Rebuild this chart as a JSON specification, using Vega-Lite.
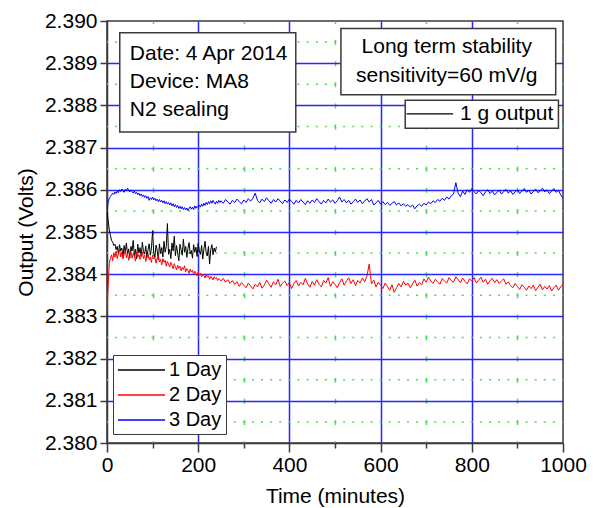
{
 "$schema": "https://vega.github.io/schema/vega-lite/v6.json",
 "width": 456, "height": 422,
 "autosize": {"type": "none"},
 "padding": {"left": 107, "top": 21, "right": 30, "bottom": 65},
 "background": "white",
 "config": {"font": "Liberation Sans", "view": {"stroke": "#3a3a3a", "strokeWidth": 1.5}},
 "layer": [
  {
   "data": {"values": [
    {"level": 2.3805}, {"level": 2.3815}, {"level": 2.3825}, {"level": 2.3835}, {"level": 2.3845},
    {"level": 2.3855}, {"level": 2.3865}, {"level": 2.3875}, {"level": 2.3885}, {"level": 2.3895}
   ]},
   "mark": {"type": "rule", "color": "#4ddf4d", "strokeWidth": 1.5, "strokeDash": [2, 7.12], "strokeDashOffset": 1},
   "encoding": {
    "y": {"field": "level", "type": "quantitative", "title": "Output (Volts)"}
   }
  },
  {
   "data": {"values": [
{"t":0,"1 Day":2.38550,"2 Day":2.38310,"3 Day":2.38550},
{"t":2.5,"1 Day":2.38527,"2 Day":2.38372,"3 Day":2.38570},
{"t":5,"1 Day":2.38506,"2 Day":2.38425,"3 Day":2.38580},
{"t":7.5,"1 Day":2.38492,"2 Day":2.38438,"3 Day":2.38584},
{"t":10,"1 Day":2.38480,"2 Day":2.38446,"3 Day":2.38588},
{"t":12.5,"1 Day":2.38476,"2 Day":2.38432,"3 Day":2.38592},
{"t":15,"1 Day":2.38468,"2 Day":2.38451,"3 Day":2.38589},
{"t":17.5,"1 Day":2.38471,"2 Day":2.38440,"3 Day":2.38595},
{"t":20,"1 Day":2.38458,"2 Day":2.38455,"3 Day":2.38591},
{"t":22.5,"1 Day":2.38466,"2 Day":2.38437,"3 Day":2.38597},
{"t":25,"1 Day":2.38449,"2 Day":2.38448,"3 Day":2.38593},
{"t":27.5,"1 Day":2.38470,"2 Day":2.38459,"3 Day":2.38600},
{"t":30,"1 Day":2.38455,"2 Day":2.38441,"3 Day":2.38596},
{"t":32.5,"1 Day":2.38462,"2 Day":2.38452,"3 Day":2.38602},
{"t":35,"1 Day":2.38441,"2 Day":2.38436,"3 Day":2.38598},
{"t":37.5,"1 Day":2.38468,"2 Day":2.38447,"3 Day":2.38594},
{"t":40,"1 Day":2.38452,"2 Day":2.38457,"3 Day":2.38601},
{"t":42.5,"1 Day":2.38474,"2 Day":2.38439,"3 Day":2.38597},
{"t":45,"1 Day":2.38447,"2 Day":2.38450,"3 Day":2.38604},
{"t":47.5,"1 Day":2.38460,"2 Day":2.38433,"3 Day":2.38599},
{"t":50,"1 Day":2.38438,"2 Day":2.38446,"3 Day":2.38595},
{"t":52.5,"1 Day":2.38466,"2 Day":2.38454,"3 Day":2.38600},
{"t":55,"1 Day":2.38455,"2 Day":2.38438,"3 Day":2.38596},
{"t":57.5,"1 Day":2.38480,"2 Day":2.38449,"3 Day":2.38592},
{"t":60,"1 Day":2.38444,"2 Day":2.38443,"3 Day":2.38597},
{"t":62.5,"1 Day":2.38459,"2 Day":2.38431,"3 Day":2.38591},
{"t":65,"1 Day":2.38436,"2 Day":2.38452,"3 Day":2.38594},
{"t":67.5,"1 Day":2.38471,"2 Day":2.38440,"3 Day":2.38588},
{"t":70,"1 Day":2.38450,"2 Day":2.38447,"3 Day":2.38592},
{"t":72.5,"1 Day":2.38463,"2 Day":2.38435,"3 Day":2.38586},
{"t":75,"1 Day":2.38442,"2 Day":2.38444,"3 Day":2.38590},
{"t":77.5,"1 Day":2.38476,"2 Day":2.38453,"3 Day":2.38584},
{"t":80,"1 Day":2.38454,"2 Day":2.38437,"3 Day":2.38588},
{"t":82.5,"1 Day":2.38448,"2 Day":2.38446,"3 Day":2.38582},
{"t":85,"1 Day":2.38467,"2 Day":2.38430,"3 Day":2.38586},
{"t":87.5,"1 Day":2.38439,"2 Day":2.38442,"3 Day":2.38580},
{"t":90,"1 Day":2.38458,"2 Day":2.38449,"3 Day":2.38584},
{"t":92.5,"1 Day":2.38472,"2 Day":2.38434,"3 Day":2.38575},
{"t":95,"1 Day":2.38445,"2 Day":2.38441,"3 Day":2.38581},
{"t":97.5,"1 Day":2.38462,"2 Day":2.38428,"3 Day":2.38577},
{"t":100,"1 Day":2.38503,"2 Day":2.38445,"3 Day":2.38583},
{"t":102.5,"1 Day":2.38451,"2 Day":2.38436,"3 Day":2.38576},
{"t":105,"1 Day":2.38440,"2 Day":2.38440,"3 Day":2.38580},
{"t":107.5,"1 Day":2.38469,"2 Day":2.38426,"3 Day":2.38574},
{"t":110,"1 Day":2.38457,"2 Day":2.38438,"3 Day":2.38578},
{"t":112.5,"1 Day":2.38434,"2 Day":2.38444,"3 Day":2.38572},
{"t":115,"1 Day":2.38472,"2 Day":2.38429,"3 Day":2.38577},
{"t":117.5,"1 Day":2.38449,"2 Day":2.38435,"3 Day":2.38571},
{"t":120,"1 Day":2.38463,"2 Day":2.38422,"3 Day":2.38575},
{"t":122.5,"1 Day":2.38441,"2 Day":2.38437,"3 Day":2.38569},
{"t":125,"1 Day":2.38478,"2 Day":2.38428,"3 Day":2.38574},
{"t":127.5,"1 Day":2.38452,"2 Day":2.38433,"3 Day":2.38567},
{"t":130,"1 Day":2.38466,"2 Day":2.38419,"3 Day":2.38572},
{"t":132.5,"1 Day":2.38520,"2 Day":2.38430,"3 Day":2.38566},
{"t":135,"1 Day":2.38447,"2 Day":2.38424,"3 Day":2.38570},
{"t":137.5,"1 Day":2.38459,"2 Day":2.38417,"3 Day":2.38564},
{"t":140,"1 Day":2.38437,"2 Day":2.38428,"3 Day":2.38569},
{"t":142.5,"1 Day":2.38474,"2 Day":2.38421,"3 Day":2.38562},
{"t":145,"1 Day":2.38455,"2 Day":2.38413,"3 Day":2.38567},
{"t":147.5,"1 Day":2.38490,"2 Day":2.38425,"3 Day":2.38560},
{"t":150,"1 Day":2.38444,"2 Day":2.38418,"3 Day":2.38565},
{"t":152.5,"1 Day":2.38468,"2 Day":2.38410,"3 Day":2.38558},
{"t":155,"1 Day":2.38450,"2 Day":2.38421,"3 Day":2.38563},
{"t":157.5,"1 Day":2.38432,"2 Day":2.38414,"3 Day":2.38556},
{"t":160,"1 Day":2.38471,"2 Day":2.38419,"3 Day":2.38561},
{"t":162.5,"1 Day":2.38458,"2 Day":2.38408,"3 Day":2.38555},
{"t":165,"1 Day":2.38445,"2 Day":2.38416,"3 Day":2.38560},
{"t":167.5,"1 Day":2.38483,"2 Day":2.38411,"3 Day":2.38553},
{"t":170,"1 Day":2.38452,"2 Day":2.38420,"3 Day":2.38558},
{"t":172.5,"1 Day":2.38466,"2 Day":2.38406,"3 Day":2.38552},
{"t":175,"1 Day":2.38440,"2 Day":2.38413,"3 Day":2.38557},
{"t":177.5,"1 Day":2.38461,"2 Day":2.38409,"3 Day":2.38551},
{"t":180,"1 Day":2.38475,"2 Day":2.38402,"3 Day":2.38556},
{"t":182.5,"1 Day":2.38448,"2 Day":2.38412,"3 Day":2.38560},
{"t":185,"1 Day":2.38456,"2 Day":2.38405,"3 Day":2.38554},
{"t":187.5,"1 Day":2.38438,"2 Day":2.38410,"3 Day":2.38559},
{"t":190,"1 Day":2.38470,"2 Day":2.38399,"3 Day":2.38553},
{"t":192.5,"1 Day":2.38452,"2 Day":2.38407,"3 Day":2.38562},
{"t":195,"1 Day":2.38464,"2 Day":2.38403,"3 Day":2.38556},
{"t":197.5,"1 Day":2.38442,"2 Day":2.38396,"3 Day":2.38561},
{"t":200,"1 Day":2.38473,"2 Day":2.38405,"3 Day":2.38558},
{"t":202.5,"1 Day":2.38455,"2 Day":2.38398,"3 Day":2.38564},
{"t":205,"1 Day":2.38447,"2 Day":2.38402,"3 Day":2.38559},
{"t":207.5,"1 Day":2.38468,"2 Day":2.38394,"3 Day":2.38566},
{"t":210,"1 Day":2.38436,"2 Day":2.38400,"3 Day":2.38561},
{"t":212.5,"1 Day":2.38460,"2 Day":2.38397,"3 Day":2.38568},
{"t":215,"1 Day":2.38478,"2 Day":2.38391,"3 Day":2.38563},
{"t":217.5,"1 Day":2.38451,"2 Day":2.38399,"3 Day":2.38570},
{"t":220,"1 Day":2.38443,"2 Day":2.38393,"3 Day":2.38565},
{"t":222.5,"1 Day":2.38466,"2 Day":2.38396,"3 Day":2.38572},
{"t":225,"1 Day":2.38424,"2 Day":2.38388,"3 Day":2.38567},
{"t":227.5,"1 Day":2.38458,"2 Day":2.38395,"3 Day":2.38574},
{"t":230,"1 Day":2.38470,"2 Day":2.38391,"3 Day":2.38568},
{"t":232.5,"1 Day":2.38446,"2 Day":2.38386,"3 Day":2.38575},
{"t":235,"1 Day":2.38462,"2 Day":2.38394,"3 Day":2.38570},
{"t":237.5,"1 Day":2.38453,"2 Day":2.38389,"3 Day":2.38566},
{"t":240,"1 Day":2.38465,"2 Day":2.38392,"3 Day":2.38573},
{"t":242.5,"2 Day":2.38385,"3 Day":2.38568},
{"t":245,"2 Day":2.38390,"3 Day":2.38575},
{"t":247.5,"2 Day":2.38387,"3 Day":2.38570},
{"t":250,"2 Day":2.38384,"3 Day":2.38574},
{"t":255,"2 Day":2.38390,"3 Day":2.38568},
{"t":260,"2 Day":2.38381,"3 Day":2.38577},
{"t":265,"2 Day":2.38387,"3 Day":2.38571},
{"t":270,"2 Day":2.38378,"3 Day":2.38566},
{"t":275,"2 Day":2.38385,"3 Day":2.38575},
{"t":280,"2 Day":2.38376,"3 Day":2.38570},
{"t":285,"2 Day":2.38382,"3 Day":2.38578},
{"t":290,"2 Day":2.38371,"3 Day":2.38572},
{"t":295,"2 Day":2.38380,"3 Day":2.38567},
{"t":300,"2 Day":2.38374,"3 Day":2.38576},
{"t":305,"2 Day":2.38368,"3 Day":2.38570},
{"t":310,"2 Day":2.38379,"3 Day":2.38579},
{"t":315,"2 Day":2.38372,"3 Day":2.38573},
{"t":320,"2 Day":2.38365,"3 Day":2.38580},
{"t":325,"2 Day":2.38376,"3 Day":2.38592},
{"t":330,"2 Day":2.38370,"3 Day":2.38575},
{"t":335,"2 Day":2.38381,"3 Day":2.38569},
{"t":340,"2 Day":2.38367,"3 Day":2.38578},
{"t":345,"2 Day":2.38374,"3 Day":2.38572},
{"t":350,"2 Day":2.38386,"3 Day":2.38581},
{"t":355,"2 Day":2.38377,"3 Day":2.38574},
{"t":360,"2 Day":2.38369,"3 Day":2.38568},
{"t":365,"2 Day":2.38382,"3 Day":2.38577},
{"t":370,"2 Day":2.38375,"3 Day":2.38571},
{"t":375,"2 Day":2.38388,"3 Day":2.38579},
{"t":380,"2 Day":2.38371,"3 Day":2.38573},
{"t":385,"2 Day":2.38379,"3 Day":2.38567},
{"t":390,"2 Day":2.38384,"3 Day":2.38576},
{"t":395,"2 Day":2.38373,"3 Day":2.38570},
{"t":400,"2 Day":2.38380,"3 Day":2.38578},
{"t":405,"2 Day":2.38366,"3 Day":2.38572},
{"t":410,"2 Day":2.38378,"3 Day":2.38566},
{"t":415,"2 Day":2.38385,"3 Day":2.38575},
{"t":420,"2 Day":2.38372,"3 Day":2.38569},
{"t":425,"2 Day":2.38381,"3 Day":2.38577},
{"t":430,"2 Day":2.38375,"3 Day":2.38571},
{"t":435,"2 Day":2.38390,"3 Day":2.38565},
{"t":440,"2 Day":2.38377,"3 Day":2.38574},
{"t":445,"2 Day":2.38369,"3 Day":2.38568},
{"t":450,"2 Day":2.38383,"3 Day":2.38576},
{"t":455,"2 Day":2.38374,"3 Day":2.38570},
{"t":460,"2 Day":2.38387,"3 Day":2.38579},
{"t":465,"2 Day":2.38376,"3 Day":2.38572},
{"t":470,"2 Day":2.38370,"3 Day":2.38566},
{"t":475,"2 Day":2.38385,"3 Day":2.38575},
{"t":480,"2 Day":2.38379,"3 Day":2.38569},
{"t":485,"2 Day":2.38392,"3 Day":2.38578},
{"t":490,"2 Day":2.38371,"3 Day":2.38571},
{"t":495,"2 Day":2.38382,"3 Day":2.38576},
{"t":500,"2 Day":2.38376,"3 Day":2.38568},
{"t":505,"2 Day":2.38368,"3 Day":2.38574},
{"t":510,"2 Day":2.38380,"3 Day":2.38583},
{"t":515,"2 Day":2.38389,"3 Day":2.38571},
{"t":520,"2 Day":2.38374,"3 Day":2.38577},
{"t":525,"2 Day":2.38383,"3 Day":2.38569},
{"t":530,"2 Day":2.38392,"3 Day":2.38575},
{"t":535,"2 Day":2.38378,"3 Day":2.38566},
{"t":540,"2 Day":2.38387,"3 Day":2.38572},
{"t":545,"2 Day":2.38373,"3 Day":2.38578},
{"t":550,"2 Day":2.38385,"3 Day":2.38570},
{"t":555,"2 Day":2.38379,"3 Day":2.38576},
{"t":560,"2 Day":2.38391,"3 Day":2.38567},
{"t":565,"2 Day":2.38382,"3 Day":2.38573},
{"t":570,"2 Day":2.38395,"3 Day":2.38579},
{"t":575,"2 Day":2.38424,"3 Day":2.38571},
{"t":580,"2 Day":2.38377,"3 Day":2.38577},
{"t":585,"2 Day":2.38386,"3 Day":2.38564},
{"t":590,"2 Day":2.38370,"3 Day":2.38569},
{"t":595,"2 Day":2.38381,"3 Day":2.38575},
{"t":600,"2 Day":2.38374,"3 Day":2.38566},
{"t":605,"2 Day":2.38366,"3 Day":2.38572},
{"t":610,"2 Day":2.38379,"3 Day":2.38565},
{"t":615,"2 Day":2.38371,"3 Day":2.38570},
{"t":620,"2 Day":2.38362,"3 Day":2.38563},
{"t":625,"2 Day":2.38375,"3 Day":2.38568},
{"t":630,"2 Day":2.38357,"3 Day":2.38572},
{"t":635,"2 Day":2.38368,"3 Day":2.38564},
{"t":640,"2 Day":2.38378,"3 Day":2.38569},
{"t":645,"2 Day":2.38370,"3 Day":2.38562},
{"t":650,"2 Day":2.38383,"3 Day":2.38567},
{"t":655,"2 Day":2.38374,"3 Day":2.38561},
{"t":660,"2 Day":2.38379,"3 Day":2.38565},
{"t":665,"2 Day":2.38368,"3 Day":2.38559},
{"t":670,"2 Day":2.38377,"3 Day":2.38564},
{"t":675,"2 Day":2.38386,"3 Day":2.38555},
{"t":680,"2 Day":2.38372,"3 Day":2.38562},
{"t":685,"2 Day":2.38380,"3 Day":2.38566},
{"t":690,"2 Day":2.38375,"3 Day":2.38561},
{"t":695,"2 Day":2.38389,"3 Day":2.38568},
{"t":700,"2 Day":2.38381,"3 Day":2.38564},
{"t":705,"2 Day":2.38393,"3 Day":2.38571},
{"t":710,"2 Day":2.38384,"3 Day":2.38567},
{"t":715,"2 Day":2.38378,"3 Day":2.38574},
{"t":720,"2 Day":2.38388,"3 Day":2.38570},
{"t":725,"2 Day":2.38382,"3 Day":2.38577},
{"t":730,"2 Day":2.38376,"3 Day":2.38573},
{"t":735,"2 Day":2.38390,"3 Day":2.38580},
{"t":740,"2 Day":2.38384,"3 Day":2.38575},
{"t":745,"2 Day":2.38379,"3 Day":2.38583},
{"t":750,"2 Day":2.38392,"3 Day":2.38578},
{"t":755,"2 Day":2.38385,"3 Day":2.38586},
{"t":760,"2 Day":2.38381,"3 Day":2.38590},
{"t":765,"2 Day":2.38394,"3 Day":2.38617},
{"t":770,"2 Day":2.38387,"3 Day":2.38592},
{"t":775,"2 Day":2.38380,"3 Day":2.38584},
{"t":780,"2 Day":2.38391,"3 Day":2.38597},
{"t":785,"2 Day":2.38383,"3 Day":2.38589},
{"t":790,"2 Day":2.38377,"3 Day":2.38600},
{"t":795,"2 Day":2.38389,"3 Day":2.38594},
{"t":800,"2 Day":2.38384,"3 Day":2.38603},
{"t":805,"2 Day":2.38392,"3 Day":2.38596},
{"t":810,"2 Day":2.38379,"3 Day":2.38590},
{"t":815,"2 Day":2.38386,"3 Day":2.38599},
{"t":820,"2 Day":2.38393,"3 Day":2.38593},
{"t":825,"2 Day":2.38381,"3 Day":2.38586},
{"t":830,"2 Day":2.38388,"3 Day":2.38595},
{"t":835,"2 Day":2.38376,"3 Day":2.38600},
{"t":840,"2 Day":2.38385,"3 Day":2.38591},
{"t":845,"2 Day":2.38390,"3 Day":2.38597},
{"t":850,"2 Day":2.38380,"3 Day":2.38588},
{"t":855,"2 Day":2.38387,"3 Day":2.38594},
{"t":860,"2 Day":2.38378,"3 Day":2.38599},
{"t":865,"2 Day":2.38384,"3 Day":2.38590},
{"t":870,"2 Day":2.38389,"3 Day":2.38596},
{"t":875,"2 Day":2.38376,"3 Day":2.38601},
{"t":880,"2 Day":2.38382,"3 Day":2.38592},
{"t":885,"2 Day":2.38373,"3 Day":2.38598},
{"t":890,"2 Day":2.38368,"3 Day":2.38589},
{"t":895,"2 Day":2.38378,"3 Day":2.38595},
{"t":900,"2 Day":2.38371,"3 Day":2.38600},
{"t":905,"2 Day":2.38364,"3 Day":2.38591},
{"t":910,"2 Day":2.38375,"3 Day":2.38597},
{"t":915,"2 Day":2.38369,"3 Day":2.38603},
{"t":920,"2 Day":2.38362,"3 Day":2.38594},
{"t":925,"2 Day":2.38372,"3 Day":2.38599},
{"t":930,"2 Day":2.38366,"3 Day":2.38590},
{"t":935,"2 Day":2.38374,"3 Day":2.38596},
{"t":940,"2 Day":2.38361,"3 Day":2.38602},
{"t":945,"2 Day":2.38369,"3 Day":2.38593},
{"t":950,"2 Day":2.38376,"3 Day":2.38598},
{"t":955,"2 Day":2.38363,"3 Day":2.38604},
{"t":960,"2 Day":2.38371,"3 Day":2.38595},
{"t":965,"2 Day":2.38365,"3 Day":2.38600},
{"t":970,"2 Day":2.38373,"3 Day":2.38591},
{"t":975,"2 Day":2.38360,"3 Day":2.38597},
{"t":980,"2 Day":2.38368,"3 Day":2.38603},
{"t":985,"2 Day":2.38374,"3 Day":2.38594},
{"t":990,"2 Day":2.38362,"3 Day":2.38599},
{"t":995,"2 Day":2.38370,"3 Day":2.38588},
{"t":1000,"2 Day":2.38376,"3 Day":2.38580}
   ]},
   "transform": [
    {"fold": ["1 Day", "2 Day", "3 Day"], "as": ["s", "v"]},
    {"filter": "isValid(datum.v)"}
   ],
   "mark": {"type": "line", "strokeWidth": 1, "clip": true},
   "encoding": {
    "x": {"field": "t", "type": "quantitative", "title": "Time (minutes)",
     "scale": {"domain": [0, 1000], "nice": false},
     "axis": {
      "values": [0,100,200,300,400,500,600,700,800,900,1000],
      "format": "d",
      "labelExpr": "datum.value % 200 === 0 ? datum.label : ''",
      "labelFlush": false, "labelOverlap": false,
      "labelFontSize": 21, "labelColor": "black", "labelPadding": 2,
      "titleFontSize": 21, "titleFontWeight": "normal", "titleColor": "black", "titlePadding": 10,
      "domainColor": "#3a3a3a", "domainWidth": 1.5,
      "tickColor": "#3a3a3a", "tickWidth": 1.5,
      "tickSize": {"condition": {"test": "datum.value % 200 === 0", "value": 9}, "value": 5},
      "grid": true,
      "gridWidth": 1.5,
      "gridColor": {"condition": {"test": "datum.value % 200 === 0", "value": "#2626ff"}, "value": "#4ddf4d"},
      "gridDash": {"condition": {"test": "datum.value % 200 === 0", "value": []}, "value": [5, 16.1]},
      "gridDashOffset": 2.5,
      "gridOpacity": {"condition": {"test": "datum.value > 0 && datum.value < 1000", "value": 1}, "value": 0}
     }
    },
    "y": {"field": "v", "type": "quantitative", "title": "Output (Volts)",
     "scale": {"domain": [2.38, 2.39], "nice": false, "zero": false},
     "axis": {
      "values": [2.38,2.3805,2.381,2.3815,2.382,2.3825,2.383,2.3835,2.384,2.3845,2.385,2.3855,2.386,2.3865,2.387,2.3875,2.388,2.3885,2.389,2.3895,2.39],
      "labelExpr": "round(datum.value*2000) % 2 === 0 ? format(datum.value, '.3f') : ''",
      "labelOverlap": false, "labelFlush": false,
      "labelFontSize": 21, "labelColor": "black", "labelPadding": 3,
      "titleFontSize": 21, "titleFontWeight": "normal", "titleColor": "black", "titlePadding": 8,
      "domainColor": "#3a3a3a", "domainWidth": 1.5,
      "tickColor": "#3a3a3a", "tickWidth": 1.5,
      "tickSize": {"condition": {"test": "round(datum.value*2000) % 2 === 0", "value": 7}, "value": 4},
      "grid": true,
      "gridWidth": 1.5,
      "gridColor": "#2626ff",
      "gridOpacity": {"condition": {"test": "round(datum.value*2000) % 2 === 0 && datum.value > 2.3801 && datum.value < 2.3899", "value": 1}, "value": 0}
     }
    },
    "color": {"field": "s", "type": "nominal",
     "scale": {"domain": ["1 Day", "2 Day", "3 Day"], "range": ["#000000", "#ff0000", "#0000ff"]},
     "legend": {"title": null, "orient": "none", "legendX": 6, "legendY": 334,
      "symbolType": "M-1,0H3.7", "symbolSize": 400, "symbolStrokeWidth": 1.5,
      "labelFontSize": 20, "labelFont": "Liberation Sans", "labelColor": "black", "labelOffset": 30,
      "strokeColor": "#3a3a3a", "fillColor": "white", "padding": 4, "rowPadding": 4}
    }
   }
  },
  {
   "data": {"values": [
    {"x1": 28, "x2": 414, "y1": 2.38972, "y2": 2.38737},
    {"x1": 513, "x2": 984, "y1": 2.38982, "y2": 2.38825},
    {"x1": 654, "x2": 990, "y1": 2.38812, "y2": 2.38746}
   ]},
   "mark": {"type": "rect", "fill": "white", "stroke": "#3a3a3a", "strokeWidth": 1.5},
   "encoding": {
    "x": {"field": "x1", "type": "quantitative", "title": "Time (minutes)"},
    "x2": {"field": "x2"},
    "y": {"field": "y1", "type": "quantitative", "title": "Output (Volts)"},
    "y2": {"field": "y2"}
   }
  },
  {
   "data": {"values": [{"x1": 657, "x2": 759, "v": 2.3878}]},
   "mark": {"type": "rule", "color": "black", "strokeWidth": 1.2},
   "encoding": {
    "x": {"field": "x1", "type": "quantitative", "title": "Time (minutes)"},
    "x2": {"field": "x2"},
    "y": {"field": "v", "type": "quantitative", "title": "Output (Volts)"}
   }
  },
  {
   "data": {"values": [
    {"t": 50, "v": 2.38922, "label": "Date: 4 Apr 2014"},
    {"t": 50, "v": 2.38856, "label": "Device: MA8"},
    {"t": 50, "v": 2.38789, "label": "N2 sealing"},
    {"t": 774, "v": 2.3878, "label": "1 g output"}
   ]},
   "mark": {"type": "text", "align": "left", "baseline": "middle", "fontSize": 21, "font": "Liberation Sans", "color": "black"},
   "encoding": {
    "x": {"field": "t", "type": "quantitative", "title": "Time (minutes)"},
    "y": {"field": "v", "type": "quantitative", "title": "Output (Volts)"},
    "text": {"field": "label"}
   }
  },
  {
   "data": {"values": [
    {"t": 745, "v": 2.38938, "label": "Long term stability"},
    {"t": 745, "v": 2.38869, "label": "sensitivity=60 mV/g"}
   ]},
   "mark": {"type": "text", "align": "center", "baseline": "middle", "fontSize": 21, "font": "Liberation Sans", "color": "black"},
   "encoding": {
    "x": {"field": "t", "type": "quantitative", "title": "Time (minutes)"},
    "y": {"field": "v", "type": "quantitative", "title": "Output (Volts)"},
    "text": {"field": "label"}
   }
  }
 ]
}
